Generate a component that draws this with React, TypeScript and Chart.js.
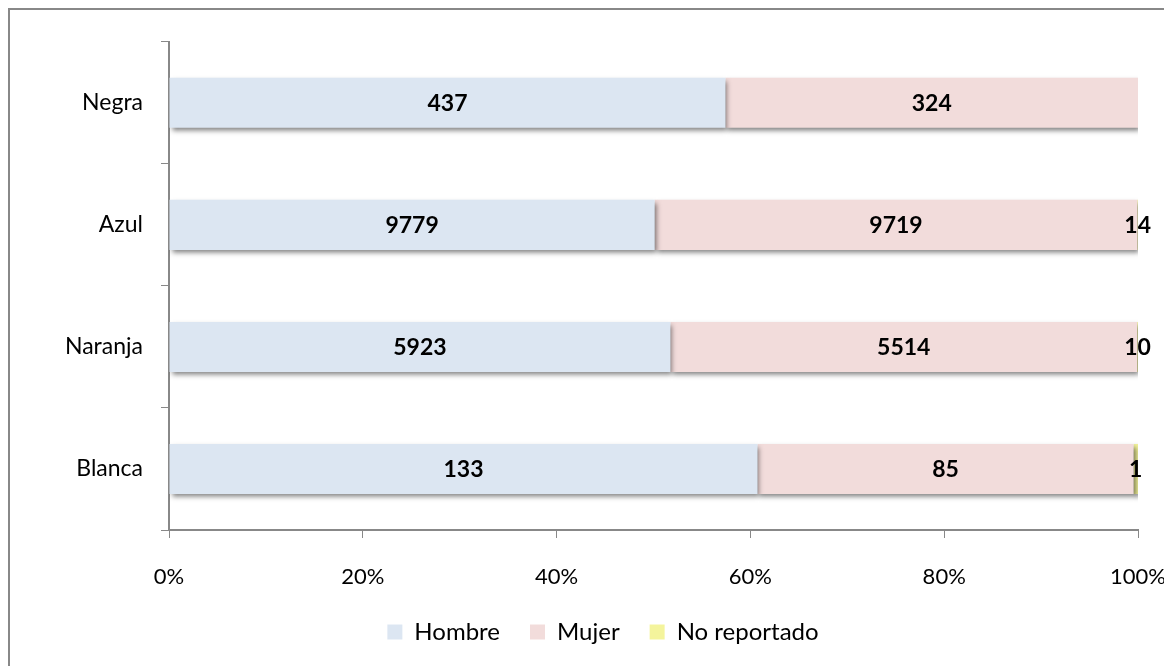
import React, { useEffect, useRef } from "react";
import { Chart, registerables } from "chart.js";

Chart.register(...registerables);

const categories = ["Negra", "Azul", "Naranja", "Blanca"];
const hombre = [437, 9779, 5923, 133];
const mujer = [324, 9719, 5514, 85];
const noReportado = [0, 14, 10, 1];
const seriesNames = ["Hombre", "Mujer", "No reportado"];
const seriesColors = ["#dce6f2", "#f2dcdb", "#f4f49c"];
const xTicks = [0, 20, 40, 60, 80, 100];

const FONT = "Lato, 'Open Sans', sans-serif";

export default function App() {
  const ref = useRef<HTMLCanvasElement | null>(null);

  useEffect(() => {
    if (!ref.current) return;
    const raw = [hombre, mujer, noReportado];
    const totals = categories.map((_, i) => raw.reduce((s, arr) => s + arr[i], 0));
    const pct = raw.map((arr) => arr.map((v, i) => (v / totals[i]) * 100));

    const shadowPlugin = {
      id: "barShadow",
      beforeDatasetsDraw(chart: any) {
        const ctx = chart.ctx;
        ctx.save();
        ctx.shadowColor = "rgba(0,0,0,0.5)";
        ctx.shadowBlur = 5;
        ctx.shadowOffsetX = 2;
        ctx.shadowOffsetY = 3;
      },
      afterDatasetsDraw(chart: any) {
        chart.ctx.restore();
      },
    };

    const legendShift = {
      id: "legendShift",
      afterLayout(chart: any) {
        const lg = chart.legend;
        if (lg) {
          lg.left += 29;
          lg.right += 29;
        }
      },
    };

    const labelPlugin = {
      id: "valueLabels",
      afterDraw(chart: any) {
        const ctx = chart.ctx;
        ctx.save();
        ctx.font = `bold 23px ${FONT}`;
        ctx.fillStyle = "#000";
        ctx.textAlign = "center";
        ctx.textBaseline = "middle";
        chart.data.datasets.forEach((ds: any, di: number) => {
          const meta = chart.getDatasetMeta(di);
          meta.data.forEach((bar: any, i: number) => {
            const v = raw[di][i];
            if (!v) return;
            const cx = (bar.x + bar.base) / 2;
            ctx.fillText(String(v), cx, bar.y + 1);
          });
        });
        ctx.restore();
      },
    };

    const chart = new Chart(ref.current, {
      type: "bar",
      data: {
        labels: categories,
        datasets: seriesNames.map((name, k) => ({
          label: name,
          data: pct[k],
          backgroundColor: seriesColors[k],
          borderWidth: 0,
          barPercentage: 0.41,
          categoryPercentage: 1,
        })),
      },
      options: {
        indexAxis: "y",
        animation: false,
        responsive: false,
        maintainAspectRatio: false,
        layout: { padding: { top: 31, right: 33, left: 0, bottom: 11 } },
        plugins: {
          tooltip: { enabled: false },
          legend: {
            position: "bottom",
            labels: {
              font: { family: FONT, size: 24 },
              color: "#000",
              boxWidth: 15,
              boxHeight: 15,
              padding: 30,
            },
          },
        },
        scales: {
          x: {
            stacked: true,
            min: 0,
            max: 100,
            afterBuildTicks(scale: any) {
              scale.ticks = xTicks.map((v) => ({ value: v }));
            },
            afterFit(scale: any) {
              scale.height = 60;
              scale.paddingRight = 0;
              scale.paddingLeft = 0;
            },
            ticks: {
              callback: (v: any) => `${v}%`,
              font: { family: FONT, size: 22 },
              color: "#000",
              padding: 26,
            },
            grid: {
              drawOnChartArea: false,
              drawTicks: true,
              tickLength: 8,
              color: "#888",
            },
            border: { display: true, color: "#888", width: 2 },
          },
          y: {
            stacked: true,
            afterFit(scale: any) {
              scale.width = 159;
            },
            ticks: {
              font: { family: FONT, size: 23 },
              color: "#000",
              padding: 18,
            },
            grid: {
              offset: true,
              drawOnChartArea: false,
              drawTicks: true,
              tickLength: 8,
              color: "#888",
            },
            border: { display: true, color: "#888", width: 2 },
          },
        },
      },
      plugins: [shadowPlugin, legendShift, labelPlugin],
    } as any);
    return () => chart.destroy();
  }, []);

  return (
    <>
      <style>{"html,body{overflow:hidden}"}</style>
      <div
        style={{
          width: 1163,
          height: 657,
          borderTop: "2px solid #888",
          borderLeft: "2px solid #888",
          background: "#fff",
          overflow: "hidden",
        }}
      >
        <canvas ref={ref} width={1161} height={655} style={{ display: "block" }} />
      </div>
    </>
  );
}
